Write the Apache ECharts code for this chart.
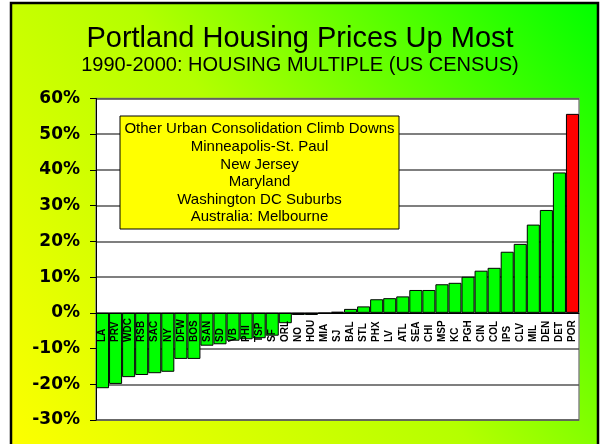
<!DOCTYPE html>
<html>
<head>
<meta charset="utf-8">
<script src="https://cdn.jsdelivr.net/npm/echarts@6/dist/echarts.min.js"></script>
<style>
  html, body { margin: 0; padding: 0; background: #fff; }
  #chart { width: 600px; height: 444px; }
</style>
</head>
<body>
<div id="chart"></div>
<script>
// metro areas, sorted by change in housing multiple 1990-2000 (percent)
var cities = ['LA', 'PRV', 'WDC', 'RSB', 'SAC', 'NY', 'DFW', 'BOS', 'SAN', 'SD', 'VB', 'PHI', 'TSP', 'SF', 'ORL',
  'NO', 'HOU', 'MIA', 'SJ', 'BAL', 'STL', 'PHX', 'LV', 'ATL', 'SEA', 'CHI', 'MSP', 'KC', 'PGH', 'CIN', 'COL',
  'IPS', 'CLV', 'MIL', 'DEN', 'DET', 'POR']
var change = [-21.1, -19.9, -18.0, -17.4, -16.9, -16.5, -12.9, -12.9, -9.2, -8.8, -7.8, -7.4, -7.1, -6.4, -2.9,
  -0.6, -0.6, -0.2, 0.3, 1.1, 1.8, 3.8, 4.1, 4.6, 6.4, 6.4, 8.0, 8.4, 10.1, 11.8, 12.6,
  17.1, 19.3, 24.7, 28.8, 39.3, 55.7]
var highlight = 'POR'
var noteLines = ['Other Urban Consolidation Climb Downs', 'Minneapolis-St. Paul', 'New Jersey',
  'Maryland', 'Washington DC Suburbs', 'Australia: Melbourne']

var chart = echarts.init(document.getElementById('chart'))

var barData = change.map(function (v, i) {
  return {
    value: v,
    itemStyle: { color: cities[i] === highlight ? '#ff0000' : '#00ff00' }
  }
})

var option = {
  backgroundColor: '#ffffff',
  animation: false,
  title: {
    text: 'Portland Housing Prices Up Most',
    subtext: '1990-2000: HOUSING MULTIPLE (US CENSUS)',
    left: 'center',
    top: 19,
    itemGap: 2,
    textStyle: { fontFamily: 'Liberation Sans, Arial', fontSize: 29, fontWeight: 'normal', color: '#000' },
    subtextStyle: { fontFamily: 'Liberation Sans, Arial', fontSize: 20, color: '#000' }
  },
  grid: {
    left: 96, right: 21, top: 98.5, bottom: 24,
    outerBoundsMode: 'none',
    containLabel: false,
    show: true,
    backgroundColor: '#ffffff',
    borderColor: '#888',
    borderWidth: 1.5
  },
  xAxis: {
    type: 'category',
    data: cities,
    z: 10,
    axisLine: { onZero: true, lineStyle: { color: '#000', width: 1 } },
    axisTick: { show: false },
    axisLabel: {
      interval: 0,
      rotate: 90,
      // labels start ~29px under the zero line and read upward, over the bars
      margin: -78,
      align: 'left',
      verticalAlign: 'middle',
      fontFamily: 'Liberation Sans, Arial',
      fontSize: 10,
      fontWeight: 'bold',
      color: '#000'
    }
  },
  yAxis: {
    type: 'value',
    min: -30,
    max: 60,
    interval: 10,
    axisLine: { show: true, lineStyle: { color: '#000', width: 1 } },
    axisTick: { show: true, length: 6, lineStyle: { color: '#000' } },
    axisLabel: {
      formatter: '{value}%',
      margin: 16,
      fontFamily: 'DejaVu Sans',
      fontSize: 17,
      fontWeight: 'bold',
      color: '#000'
    },
    splitLine: { lineStyle: { color: '#555', width: 1.5 } }
  },
  series: [{
    type: 'bar',
    data: barData,
    barCategoryGap: 0,
    itemStyle: { borderColor: '#000', borderWidth: 1 }
  }],
  graphic: [
    {
      type: 'rect',
      z: -10,
      silent: true,
      shape: { x: 11, y: 3, width: 587, height: 450 },
      style: {
        fill: new echarts.graphic.LinearGradient(0, 1, 1, 0, [
          { offset: 0, color: '#ffff00' },
          { offset: 0.5, color: '#b4ff00' },
          { offset: 1, color: '#00ff00' }
        ]),
        stroke: '#000',
        lineWidth: 2.5
      }
    },
    {
      type: 'rect',
      z: 50,
      shape: { x: 120, y: 116, width: 279, height: 113 },
      style: { fill: '#ffff00', stroke: '#000', lineWidth: 1 }
    },
    {
      type: 'text',
      z: 51,
      x: 259.5,
      y: 120.5,
      style: {
        text: noteLines.join('\n'),
        align: 'center',
        verticalAlign: 'top',
        fontFamily: 'Liberation Sans, Arial',
        fontSize: 15,
        lineHeight: 17.6,
        fill: '#000'
      }
    }
  ]
}

chart.setOption(option)
</script>
</body>
</html>
